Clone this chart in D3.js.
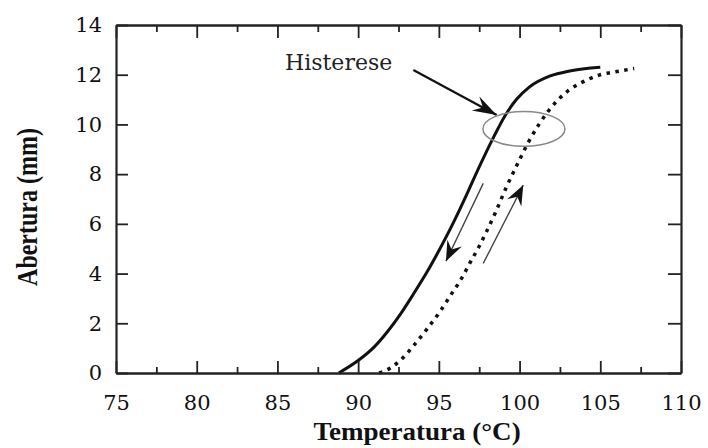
<!DOCTYPE html>
<html lang="pt">
  <head>
    <meta charset="UTF-8" />
    <title>Histerese</title>
    <style>
      body { margin: 0; background: #fff; }
      svg { display: block; }
    </style>
  </head>
  <body>
    <svg width="708" height="448"></svg>
    <script src="https://d3js.org/d3.v7.min.js"></script>
    <script>
      // curva de fechamento (linha cheia)
      var tempSolid = [88.8, 90.0, 91.0, 91.8, 92.6, 93.4, 94.3, 94.9, 95.9, 96.7, 97.4, 98.4, 99.1, 99.8, 100.6, 101.9, 103.1, 105.0];
      var aberSolid = [0, 0.5, 1.05, 1.65, 2.35, 3.15, 4.1, 4.8, 6.05, 7.15, 8.15, 9.5, 10.35, 11.0, 11.5, 11.95, 12.15, 12.3];

      // curva de abertura (pontilhada)
      var tempDotted = [91.3, 92.0, 92.6, 93.5, 94.3, 95.1, 95.7, 96.4, 96.9, 97.5, 98.0, 98.5, 99.2, 99.9, 100.6, 101.2, 101.8, 102.4, 103.0, 103.6, 104.2, 105.0, 105.8, 107.1];
      var aberDotted = [0, 0.2, 0.5, 1.15, 1.8, 2.5, 3.1, 3.8, 4.4, 5.1, 5.75, 6.45, 7.5, 8.45, 9.35, 10.0, 10.55, 11.0, 11.35, 11.6, 11.8, 12.0, 12.1, 12.25];

      var xTicks = [75, 80, 85, 90, 95, 100, 105, 110];
      var xMinor = [77.5, 82.5, 87.5, 92.5, 97.5, 102.5, 107.5];
      var yTicks = [0, 2, 4, 6, 8, 10, 12, 14];

      var svg = d3.select("svg");

      var x = d3.scaleLinear().domain([75, 110]).range([116, 681]);
      var y = d3.scaleLinear().domain([0, 14]).range([373, 25]);

      var solid = tempSolid.map(function(t, i) { return [t, aberSolid[i]]; });
      var dotted = tempDotted.map(function(t, i) { return [t, aberDotted[i]]; });

      var line = d3.line()
        .x(function(d) { return x(d[0]); })
        .y(function(d) { return y(d[1]); })
        .curve(d3.curveMonotoneX);

      // setas
      var defs = svg.append("defs");
      function addHead(id, len, half) {
        defs.append("marker")
          .attr("id", id)
          .attr("markerUnits", "userSpaceOnUse")
          .attr("viewBox", (-len - 1) + " " + (-half - 1) + " " + (len + 2) + " " + (2 * half + 2))
          .attr("refX", 0).attr("refY", 0)
          .attr("markerWidth", len + 2).attr("markerHeight", 2 * half + 2)
          .attr("orient", "auto")
          .append("path")
          .attr("d", "M0,0 L" + (-len) + "," + (-half) + " L" + (-len * 0.65) + ",0 L" + (-len) + "," + half + " Z")
          .attr("fill", "#111");
      }
      addHead("headBig", 24, 8);
      addHead("headSmall", 20, 8);

      // curvas
      svg.append("path")
        .datum(solid)
        .attr("d", line)
        .attr("fill", "none")
        .attr("stroke", "#111")
        .attr("stroke-width", 3);

      svg.append("path")
        .datum(dotted)
        .attr("d", line)
        .attr("fill", "none")
        .attr("stroke", "#111")
        .attr("stroke-width", 3.5)
        .attr("stroke-dasharray", "3.5 5.5");

      // eixos (caixa com marcas para dentro)
      function styleAxis(g) {
        g.select(".domain").attr("stroke", "#222").attr("stroke-width", 2.2);
        g.selectAll(".tick line").attr("stroke", "#222").attr("stroke-width", 1.8);
        g.selectAll(".tick text")
          .attr("font-family", "'DejaVu Serif', serif")
          .attr("font-size", 21)
          .attr("fill", "#111");
      }

      svg.append("g")
        .attr("transform", "translate(0," + y(0) + ")")
        .call(d3.axisBottom(x).tickValues(xMinor).tickSize(-6).tickSizeOuter(0).tickFormat(""))
        .call(styleAxis);
      svg.append("g")
        .attr("transform", "translate(0," + y(0) + ")")
        .call(d3.axisBottom(x).tickValues(xTicks).tickSize(-12).tickSizeOuter(0).tickPadding(22).tickFormat(d3.format("d")))
        .call(styleAxis);

      svg.append("g")
        .attr("transform", "translate(0," + y(14) + ")")
        .call(d3.axisTop(x).tickValues(xMinor).tickSize(-7).tickSizeOuter(0).tickFormat(""))
        .call(styleAxis);
      svg.append("g")
        .attr("transform", "translate(0," + y(14) + ")")
        .call(d3.axisTop(x).tickValues(xTicks).tickSize(-13).tickSizeOuter(0).tickFormat(""))
        .call(styleAxis);

      svg.append("g")
        .attr("transform", "translate(" + x(75) + ",0)")
        .call(d3.axisLeft(y).tickValues(yTicks).tickSize(-12).tickSizeOuter(0).tickPadding(14).tickFormat(d3.format("d")))
        .call(styleAxis);

      svg.append("g")
        .attr("transform", "translate(" + x(110) + ",0)")
        .call(d3.axisRight(y).tickValues(yTicks).tickSize(-13).tickSizeOuter(0).tickFormat(""))
        .call(styleAxis);

      // titulos dos eixos
      svg.append("text")
        .attr("transform", "translate(417,440) scale(1.04,1)")
        .attr("text-anchor", "middle")
        .attr("font-family", "'Liberation Serif', serif")
        .attr("font-weight", "bold")
        .attr("font-size", 26)
        .attr("fill", "#111")
        .text("Temperatura (°C)");

      svg.append("text")
        .attr("transform", "translate(37,207) scale(1.2,1) rotate(-90)")
        .attr("text-anchor", "middle")
        .attr("font-family", "'Liberation Serif', serif")
        .attr("font-weight", "bold")
        .attr("font-size", 24)
        .attr("fill", "#111")
        .text("Abertura (mm)");

      // anotacao
      svg.append("text")
        .attr("x", x(85.47))
        .attr("y", y(12.19))
        .attr("font-family", "'DejaVu Serif', serif")
        .attr("font-size", 22)
        .attr("fill", "#222")
        .text("Histerese");

      svg.append("line")
        .attr("x1", x(93.42)).attr("y1", y(12.19))
        .attr("x2", x(98.58)).attr("y2", y(10.38))
        .attr("stroke", "#111")
        .attr("stroke-width", 2.2)
        .attr("marker-end", "url(#headBig)");

      svg.append("ellipse")
        .attr("cx", x(100.27)).attr("cy", y(9.82))
        .attr("rx", x(100.27 + 2.54) - x(100.27))
        .attr("ry", y(9.82) - y(9.82 + 0.7))
        .attr("fill", "none")
        .attr("stroke", "#888")
        .attr("stroke-width", 1.5);

      // setas de sentido
      svg.append("line")
        .attr("x1", x(97.75)).attr("y1", y(7.63))
        .attr("x2", x(95.44)).attr("y2", y(4.5))
        .attr("stroke", "#444")
        .attr("stroke-width", 1.4)
        .attr("marker-end", "url(#headSmall)");

      svg.append("line")
        .attr("x1", x(97.75)).attr("y1", y(4.41))
        .attr("x2", x(100.23)).attr("y2", y(7.56))
        .attr("stroke", "#444")
        .attr("stroke-width", 1.4)
        .attr("marker-end", "url(#headSmall)");
    </script>
  </body>
</html>
